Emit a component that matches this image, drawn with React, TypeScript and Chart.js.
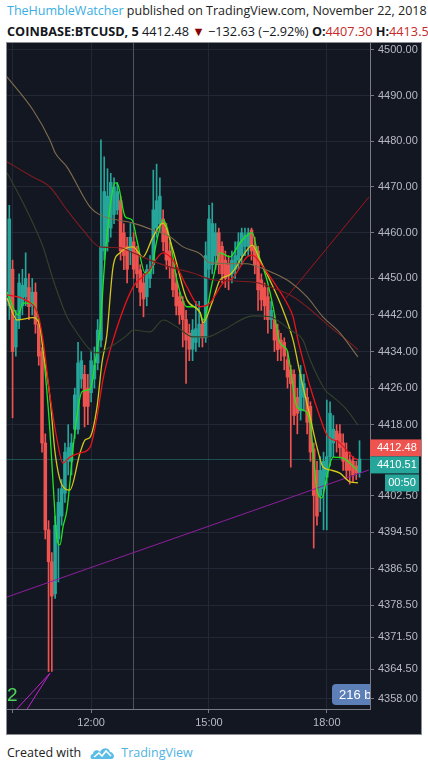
import React, { useEffect, useRef } from "react";
import { Chart, registerables } from "chart.js";

Chart.register(...registerables);

// ---- data (bar index 0 = 09:55, 5-minute bars) ----
const opens = [4444,4452,4435,4441,4444,4446,4448,4444,4447,4440, 4434,4414,4395,4388,4381,4393,4398,4403,4410,4410, 4417,4417,4428,4429,4426,4425,4428,4431.5,4436.5,4456, 4458,4461,4464,4465,4467,4460,4457,4456,4458,4456, 4451.9,4449,4446,4450,4453,4461,4462,4463,4461,4456, 4452.5,4449,4446,4445,4441,4438,4434.5,4436,4437,4440, 4437,4452,4453,4455,4460,4457,4454,4453,4451,4452, 4454,4455,4457,4457,4460.6,4457,4456,4449.7,4448,4446, 4441,4441,4438.7,4436.5,4436,4432.2,4430,4429,4424,4421, 4424,4424,4422,4412.7,4408,4402.5,4404,4406.5,4411,4414, 4416.6,4416,4414,4412,4410.3,4410,4409,4407.5];
const highs = [4466,4454,4443,4451,4452,4455.6,4451,4450,4449,4441, 4435,4416,4397,4390,4398,4404,4406,4414,4418,4416, 4426,4436,4434,4431,4429,4434,4435,4441,4480.3,4476.6, 4474,4473,4472,4471,4468,4462,4459,4462,4460,4457, 4453,4451,4453,4455,4473.7,4475,4472,4465,4462,4458, 4454,4451,4447,4446,4443,4440,4441,4445,4445,4441, 4458,4466,4466.5,4462,4461,4458,4456,4455,4456,4458, 4460,4461,4461,4461,4461,4459,4457,4451,4449,4448, 4445,4442,4440,4438,4437,4434,4431,4430,4426,4431, 4429,4426,4423,4414,4410,4411,4412,4423.4,4423,4420, 4418,4418,4416,4414,4412,4411,4410,4414.5];
const lows = [4441,4419.5,4433,4439,4442,4444,4441,4442,4438,4431, 4412,4393,4364,4364,4380,4383.6,4396,4401,4407,4407, 4415,4416,4426,4417.5,4418,4423,4426,4430,4435,4454, 4456,4459,4462,4464,4454,4451.9,4449,4453,4450,4448, 4444,4441.6,4444,4448,4451,4459,4460,4456,4452,4450, 4446,4442,4440,4435,4427,4432,4432,4434,4435,4435, 4436,4450,4451,4452,4451,4449,4448,4447.5,4449,4450, 4452,4453,4455,4455,4454,4451,4443,4443,4441,4438, 4439,4434,4432,4432,4430,4426,4408.7,4418,4416,4419, 4421,4416,4410,4391,4396,4399,4395,4395,4409,4411, 4412,4411,4408,4406,4405,4405.5,4406,4406.5];
const closes = [4463,4434,4441,4449,4448.5,4450,4443.8,4447,4440,4433, 4414,4395,4388,4380.5,4396,4401,4404,4412,4413,4414, 4424.5,4431.5,4432,4422,4422,4432,4431,4438.7,4457,4469, 4468,4471,4470,4469,4456,4455,4452,4459,4452,4451, 4447,4445.5,4451.9,4452,4465,4467,4468,4458,4454,4452.5, 4447.5,4444,4442,4441,4436.5,4434.5,4438.7,4439,4440,4437, 4455,4463,4462,4460,4453,4451,4450,4450.5,4454,4455, 4458,4460,4459.5,4460,4456,4453,4447.5,4445.3,4444,4441, 4443,4436.5,4434.4,4434.7,4433,4428.4,4427,4420,4420.5,4429, 4427,4418.5,4412,4402.5,4398,4408,4410,4411,4420.5,4417, 4414.7,4413,4410,4408,4408,4407,4407.5,4410.51];

// moving averages: [bar position, price]
const greenMA = [[-0.7,4447],[2.7,4442],[4.2,4444.6],[7.2,4444.6],[9.4,4439.4],[10.3,4434.4],[12.4,4416.8],[14,4397.8],[14.6,4392.8],[15.5,4391.7],[16.4,4395.6],[17.6,4399.3],[20.1,4416.8],[22.2,4425.2],[24.7,4425.8],[26.8,4434.4],[27.7,4438.7],[29.2,4454],[30.8,4465.6],[32.3,4470.9],[33.2,4470.5],[35.4,4463.5],[37.5,4462.8],[39,4458.4],[41.5,4451.2],[43,4451.2],[45.1,4458.4],[47,4462.8],[49.1,4458.4],[51.2,4449.7],[54.3,4443.8],[56.1,4443.8],[58.3,4442.5],[59.2,4440.9],[62.2,4449.7],[64.4,4455.6],[67.4,4454.7],[70.5,4457.8],[74.2,4460],[75.7,4456.2],[78.7,4449.7],[80.6,4443.8],[82.7,4435.9],[84.8,4434.4],[87.9,4421.9],[89.7,4421.2],[91.9,4418.4],[94,4403.7],[95.5,4402],[97,4406.6],[98.9,4410.9],[101.9,4410.7],[106.2,4408.1]];
const yellowMA = [[-0.7,4445.7],[2.4,4440.9],[7.2,4441.4],[9.4,4439.4],[10.3,4434.4],[12.4,4424.1],[14,4411.8],[16.1,4404.8],[18.5,4403.7],[21.6,4411.8],[23.2,4414.7],[24.7,4415.3],[26.8,4421.9],[28.3,4431.5],[29.8,4437.6],[31.7,4452.5],[33.8,4455.6],[37.8,4456.9],[40.8,4454.7],[43.9,4459.1],[47,4462.1],[50,4456.2],[54.3,4445.3],[58.3,4442.5],[59.2,4440.3],[61.9,4444.6],[64.4,4449.7],[67.4,4450.8],[72.6,4456.2],[74.2,4457.3],[76.6,4454],[80.6,4448.1],[83.6,4443.1],[86.7,4436.5],[88.8,4429.3],[91.9,4419.7],[94,4413.1],[95.8,4408.8],[98,4408.1],[101,4407.4],[104.1,4405.5],[106.5,4405.3]];
const redMA = [[-0.7,4446.4],[4.8,4445.3],[8.8,4442],[10.3,4436.5],[12.4,4424.5],[14.6,4414.7],[16.4,4409.6],[18.5,4410.9],[21.6,4411.8],[24.7,4413.1],[26.8,4419.7],[28.6,4427.8],[31.7,4436.5],[37.8,4448.1],[42.1,4451.2],[47,4455.6],[50,4454],[54.3,4448.1],[58.3,4443.8],[61.3,4444.6],[65.3,4449],[68.3,4450.1],[72.6,4454.7],[74.2,4455.1],[77.5,4452.5],[81.8,4448.1],[84.8,4444.6],[86.7,4441.6],[88.2,4436.5],[89.7,4432.2],[91.9,4426.3],[94.9,4419.7],[97,4415.8],[101,4414],[105,4410.9],[106.5,4410.3]];
const maroonMA = [[-0.7,4475.5],[7.2,4472.2],[12.4,4470],[17.6,4465],[22.5,4460.6],[27.7,4456.9],[33.8,4456.7],[37.8,4455.6],[43,4454],[50,4452.3],[56.1,4451.2],[62.2,4449.7],[74.5,4449.2],[80.6,4447.9],[86.7,4446],[90.9,4443.8],[98,4439.4],[101.9,4437.2],[106.5,4434.4]];
const tanMA = [[-0.7,4494.1],[7.2,4486.9],[12.4,4480.3],[14,4477.5],[17.6,4474.4],[24.7,4465.6],[27.7,4463.9],[37.8,4462.1],[43.9,4460.6],[49.1,4459.1],[53.1,4456.9],[58.3,4455.4],[61.3,4453.4],[72.6,4453.2],[74.2,4453],[80.6,4451.2],[85.8,4449.2],[90.9,4446],[95.8,4441.6],[101,4438.1],[106.5,4432.8]];
const oliveMA = [[-0.7,4473.1],[3.3,4467.8],[7.2,4462.1],[10.3,4456.9],[13.4,4449.7],[17.6,4441.6],[20.1,4438.7],[24.7,4434.4],[26.8,4433.7],[31.7,4435.4],[36,4437.6],[37.8,4438.7],[43,4438.3],[47,4440.9],[51.2,4439.4],[56.1,4437.2],[60.4,4437.2],[65.3,4438.7],[74.5,4441.8],[79.6,4441.6],[85.8,4438.7],[89.7,4436.5],[91.9,4432.2],[96.5,4425.6],[98.9,4424.1],[103.2,4421.2],[106.5,4417.9]];

// drawings
const purpleTrend = [[-0.7,4380.3],[109.9,4408.1]];
const crimsonTrend = [[84.5,4445.7],[109.9,4467.8]];
const fanA = [[12.4,4363.6],[0.6,4354.5]];
const fanB = [[12.4,4363.6],[4.3,4354.5]];

const timeTickPos = [1, 25, 61, 97];
const timeTickLabels = ["", "12:00", "15:00", "18:00"];
const priceTicks = [4500,4490,4480,4470,4460,4450,4442,4434,4426,4418,4402.5,4394.5,4386.5,4378.5,4371.5,4364.5,4358];
const lastPrice = 4410.51;
const redLabelPrice = 4412.48;
const crossBar = 37.7;

const UP = "#26a69a";
const DOWN = "#ef5350";
const AXIS_FONT = "Liberation Sans, Arial, sans-serif";

const pts = (arr: number[][]) => arr.map(([x, y]) => ({ x, y }));

function roundRect(ctx: CanvasRenderingContext2D, x: number, y: number, w: number, h: number, r: number) {
  ctx.beginPath();
  ctx.moveTo(x + r, y);
  ctx.lineTo(x + w - r, y);
  ctx.quadraticCurveTo(x + w, y, x + w, y + r);
  ctx.lineTo(x + w, y + h - r);
  ctx.quadraticCurveTo(x + w, y + h, x + w - r, y + h);
  ctx.lineTo(x + r, y + h);
  ctx.quadraticCurveTo(x, y + h, x, y + h - r);
  ctx.lineTo(x, y + r);
  ctx.quadraticCurveTo(x, y, x + r, y);
  ctx.closePath();
}

const overlay = {
  id: "overlay",
  beforeDatasetsDraw(chart: any) {
    const { ctx, chartArea: a, scales } = chart;
    const x = scales.x, y = scales.y;
    ctx.save();
    ctx.lineWidth = 1;
    const cx = Math.round(x.getPixelForValue(crossBar)) + 0.5;
    ctx.strokeStyle = "#50545f";
    ctx.beginPath();
    ctx.moveTo(cx, a.top);
    ctx.lineTo(cx, a.bottom);
    ctx.stroke();
    const py = Math.round(y.getPixelForValue(lastPrice)) + 0.5;
    ctx.strokeStyle = "rgba(38,166,154,0.4)";
    ctx.beginPath();
    ctx.moveTo(a.left, py);
    ctx.lineTo(a.right, py);
    ctx.stroke();
    ctx.restore();
  },
  afterDatasetsDraw(chart: any) {
    const { ctx, chartArea: a } = chart;
    ctx.save();
    ctx.beginPath();
    ctx.rect(a.left, a.top, a.right - a.left, a.bottom - a.top);
    ctx.clip();
    ctx.fillStyle = "#4fd65a";
    ctx.font = "19px Liberation Sans, Arial, sans-serif";
    ctx.textBaseline = "alphabetic";
    ctx.textAlign = "left";
    ctx.fillText("2", a.left, a.bottom - 8);
    ctx.fillStyle = "#5b7fb6";
    roundRect(ctx, a.right - 38, a.bottom - 25, 60, 21, 4);
    ctx.fill();
    ctx.fillStyle = "#ffffff";
    ctx.font = "13px Liberation Sans, Arial, sans-serif";
    ctx.textBaseline = "middle";
    ctx.fillText("216 bars", a.right - 31, a.bottom - 14);
    ctx.restore();
  },
  afterDraw(chart: any) {
    const { ctx, chartArea: a, scales, width } = chart;
    const y = scales.y;
    ctx.save();
    ctx.font = "11px " + AXIS_FONT;
    ctx.textBaseline = "middle";
    const ry = y.getPixelForValue(redLabelPrice) - 2;
    const boxL = a.right;
    const boxW = width - a.right;
    ctx.fillStyle = DOWN;
    ctx.fillRect(boxL, ry - 8.5, boxW, 17);
    ctx.fillStyle = "#ffffff";
    ctx.textAlign = "left";
    ctx.fillText("4412.48", boxL + 7, ry + 0.5);
    const ty = ry + 17;
    ctx.fillStyle = UP;
    ctx.fillRect(boxL, ty - 8.5, boxW - 2, 17);
    ctx.fillStyle = "#ffffff";
    ctx.fillText(lastPrice.toFixed(2), boxL + 7, ty + 0.5);
    const cy = ty + 18;
    ctx.fillStyle = UP;
    ctx.fillRect(boxL + 15, cy - 8.5, boxW - 17, 17);
    ctx.fillStyle = "#ffffff";
    ctx.textAlign = "center";
    ctx.fillText("00:50", boxL + 15 + (boxW - 17) / 2, cy + 0.5);
    ctx.restore();
  },
};

export default function App() {
  const ref = useRef<HTMLCanvasElement>(null);

  useEffect(() => {
    document.body.style.margin = "0";
    const canvas = ref.current;
    if (!canvas) return;
    const idx = opens.map((_, i) => i);
    const colors = idx.map((i) => (closes[i] >= opens[i] ? UP : DOWN));
    const lineDs = (data: number[][], color: string, w: number) => ({
      type: "line",
      data: pts(data),
      borderColor: color,
      borderWidth: w,
      pointRadius: 0,
      cubicInterpolationMode: "monotone",
      order: 1,
    });
    const straight = (data: number[][], color: string) => ({
      type: "line",
      data: pts(data),
      borderColor: color,
      borderWidth: 1,
      pointRadius: 0,
      tension: 0,
      order: 1,
    });
    const zeroPad = (s: any) => {
      s.paddingTop = 0;
      s.paddingBottom = 0;
      s.paddingLeft = 0;
      s.paddingRight = 0;
    };
    const chart = new Chart(canvas, {
      type: "bar",
      data: {
        datasets: [
          lineDs(oliveMA, "#34432a", 1.1),
          lineDs(tanMA, "#7f6d4d", 1.1),
          lineDs(maroonMA, "#7d1d20", 1.1),
          lineDs(redMA, "#e8141a", 1.3),
          lineDs(yellowMA, "#d2c81c", 1.3),
          lineDs(greenMA, "#1fe61f", 1.3),
          straight(purpleTrend, "#8e1f9e"),
          straight(crimsonTrend, "#a3161c"),
          straight(fanA, "#c224d0"),
          straight(fanB, "#c224d0"),
          {
            type: "bar",
            data: idx.map((i) => ({ x: i, y: [opens[i], closes[i]] })),
            backgroundColor: colors,
            barThickness: 2.9,
            minBarLength: 1,
            grouped: false,
            borderWidth: 0,
            borderSkipped: false,
            order: 5,
          },
          {
            type: "bar",
            data: idx.map((i) => ({ x: i, y: [lows[i], highs[i]] })),
            backgroundColor: colors,
            barThickness: 1,
            grouped: false,
            borderWidth: 0,
            borderSkipped: false,
            order: 6,
          },
        ] as any,
      },
      options: {
        animation: false,
        responsive: false,
        maintainAspectRatio: false,
        layout: { padding: 0 },
        plugins: { legend: { display: false }, tooltip: { enabled: false } },
        scales: {
          x: {
            type: "linear",
            min: -0.7,
            max: 110.2,
            offset: false,
            position: "bottom",
            afterBuildTicks: (s: any) => {
              s.ticks = timeTickPos.map((v) => ({ value: v }));
            },
            afterFit: (s: any) => {
              s.height = 25;
              zeroPad(s);
            },
            ticks: {
              autoSkip: false,
              maxRotation: 0,
              padding: 3,
              color: "#b7bac2",
              font: { family: AXIS_FONT, size: 11 },
              callback: (v: any) => {
                const k = timeTickPos.indexOf(Number(v));
                return k >= 0 ? timeTickLabels[k] : "";
              },
            },
            grid: { color: "#232837", offset: false, tickLength: 4, tickColor: "#787b86" },
            border: { color: "#787b86" },
          },
          y: {
            type: "linear",
            position: "right",
            min: 4355.8,
            max: 4501.5,
            beginAtZero: false,
            afterBuildTicks: (s: any) => {
              s.ticks = priceTicks.map((v) => ({ value: v }));
            },
            afterFit: (s: any) => {
              s.width = 51;
              zeroPad(s);
            },
            ticks: {
              padding: 4,
              color: "#b7bac2",
              font: { family: AXIS_FONT, size: 11 },
              callback: (v: any) => Number(v).toFixed(2),
            },
            grid: { color: "#232837", tickLength: 4, tickColor: "#787b86" },
            border: { color: "#787b86" },
          },
        },
      } as any,
      plugins: [overlay],
    });
    return () => chart.destroy();
  }, []);

  const sans = '"Open Sans", "Noto Sans", sans-serif';
  const red = "#c62828";
  return (
    <div style={{ position: "relative", width: 428, height: 771, background: "#ffffff", overflow: "hidden", fontFamily: sans }}>
      <div style={{ position: "absolute", left: 7, top: 2, whiteSpace: "nowrap", fontSize: 12.5, color: "#222222", lineHeight: "18px" }}>
        <span style={{ color: "#3aaee2" }}>TheHumbleWatcher</span> published on TradingView.com, November 22, 2018 18:55 UTC
      </div>
      <div style={{ position: "absolute", left: 7, top: 22, whiteSpace: "nowrap", fontSize: 12.7, color: "#131722", lineHeight: "18px" }}>
        <b>COINBASE:BTCUSD, 5</b> 4412.48 <span style={{ color: "#8b0000" }}>▼</span> −132.63 (−2.92%) <b>O:</b>
        <span style={{ color: red }}>4407.30</span> <b>H:</b>
        <span style={{ color: red }}>4413.59</span> <b>L:</b>
        <span style={{ color: red }}>4406.50</span>
      </div>
      <div style={{ position: "absolute", left: 6, top: 42, width: 414, height: 691, background: "#131722", border: "1px solid #8a8d94" }}>
        <canvas ref={ref} width={414} height={691} style={{ display: "block" }} />
      </div>
      <div style={{ position: "absolute", left: 7, top: 744, whiteSpace: "nowrap", fontSize: 12.5, color: "#222222", lineHeight: "18px", display: "flex", alignItems: "center" }}>
        <span>Created with</span>
        <svg width="26" height="16" viewBox="0 0 26 16" style={{ marginLeft: 9 }}>
          <path d="M2 14 C0 14 0 9 3 9 C3 5 8 4 10 7 C12 2 19 2 20 7 C24 7 26 14 21 14 Z" fill="#5bbde6" />
          <path d="M4 12 L9 8 L12 11 L16 6 L21 11" stroke="#ffffff" strokeWidth="1.6" fill="none" />
        </svg>
        <span style={{ color: "#4fb3e0", marginLeft: 5 }}>TradingView</span>
      </div>
    </div>
  );
}
